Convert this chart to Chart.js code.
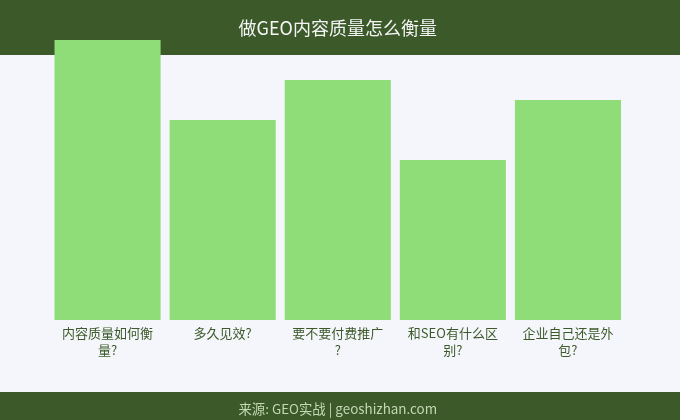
<!DOCTYPE html>
<html>
<head>
<meta charset="utf-8">
<script src="https://cdn.jsdelivr.net/npm/chart.js@4"></script>
<style>
  html, body { margin: 0; padding: 0; background: #f5f6fb; }
  #wrap { width: 680px; height: 420px; }
</style>
</head>
<body>
<div id="wrap"><canvas id="geoChart" width="680" height="420"></canvas></div>
<script>
// données du graphique
const categories = [
    ['内容质量如何衡', '量?'],
    '多久见效?',
    ['要不要付费推广', '?'],
    ['和SEO有什么区', '别?'],
    ['企业自己还是外', '包?']
];
const scores = [14, 10, 12, 8, 11];
const yMax = 14;

const chartTitle = '做GEO内容质量怎么衡量';
const sourceText = '来源: GEO实战 | geoshizhan.com';

const darkGreen = '#3b5929';
const barGreen = '#8fdd78';
const pageBg = '#f5f6fb';
const fontCJK = "'Noto Sans CJK SC', 'Noto Sans', sans-serif";

// fond, bandeau du haut et pied de page
const bandsPlugin = {
    id: 'bands',
    beforeDraw(chart) {
        const ctx = chart.ctx;
        const w = chart.width, h = chart.height;
        ctx.save();
        ctx.fillStyle = pageBg;
        ctx.fillRect(0, 0, w, h);
        ctx.fillStyle = darkGreen;
        ctx.fillRect(0, 0, w, 55);
        ctx.fillRect(0, 392, w, h - 392);
        ctx.restore();
    }
};

document.addEventListener('DOMContentLoaded', () => {
    const canvas = document.getElementById('geoChart');
    if (canvas) {
        new Chart(canvas, {
            type: 'bar',
            data: {
                labels: categories,
                datasets: [{
                    data: scores,
                    backgroundColor: barGreen,
                    borderWidth: 0,
                    categoryPercentage: 1,
                    barPercentage: 106 / 115
                }]
            },
            options: {
                responsive: false,
                animation: false,
                events: [],
                layout: { padding: { left: 50, right: 54.5, top: 0, bottom: 0 } },
                plugins: {
                    legend: { display: false },
                    tooltip: { enabled: false },
                    title: {
                        display: true,
                        text: chartTitle,
                        color: '#f4f4f4',
                        font: { family: fontCJK, size: 18, weight: 'normal', lineHeight: 1.2 },
                        padding: { top: 17, bottom: 1.4 }
                    },
                    subtitle: {
                        display: true,
                        position: 'bottom',
                        text: sourceText,
                        color: '#c4d9b3',
                        font: { family: fontCJK, size: 13.4, weight: 'normal', lineHeight: 1.2 },
                        padding: { top: 10, bottom: 3 }
                    }
                },
                scales: {
                    x: {
                        grid: { display: false, drawTicks: false },
                        border: { display: false },
                        ticks: {
                            color: darkGreen,
                            padding: 5,
                            maxRotation: 0,
                            autoSkip: false,
                            font: { family: fontCJK, size: 13, lineHeight: 1.3 }
                        },
                        afterFit: (scale) => { scale.height = 420 - 29.1 - 320; }
                    },
                    y: {
                        display: false,
                        min: 0,
                        max: yMax
                    }
                }
            },
            plugins: [bandsPlugin]
        });
    }
});
</script>
</body>
</html>
